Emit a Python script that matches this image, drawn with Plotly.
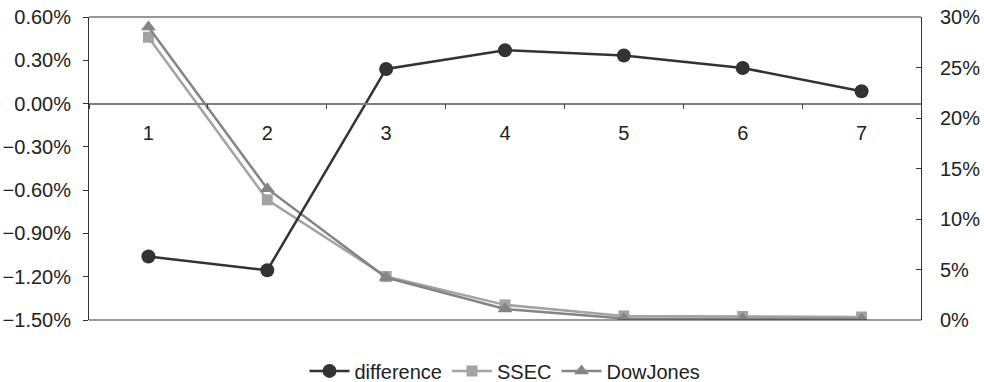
import plotly.graph_objects as go

categories = ["1", "2", "3", "4", "5", "6", "7"]
difference = [-0.0106, -0.01155, 0.0024, 0.0037, 0.00333, 0.00247, 0.00085]
ssec = [0.280, 0.119, 0.043, 0.015, 0.004, 0.0035, 0.003]
dowjones = [0.290, 0.130, 0.042, 0.011, 0.0015, 0.0012, 0.001]

left_ticks = [-0.015, -0.012, -0.009, -0.006, -0.003, 0.0, 0.003, 0.006]
right_ticks = [0, 0.05, 0.10, 0.15, 0.20, 0.25, 0.30]

FONT = "Liberation Sans, Arial, sans-serif"
FS = 20
fig = go.Figure()

fig.add_trace(go.Scatter(
    x=categories, y=difference, name="difference", yaxis="y2",
    mode="lines+markers",
    line=dict(color="#333333", width=2.5),
    marker=dict(symbol="circle", size=14, color="#333333"),
))
fig.add_trace(go.Scatter(
    x=categories, y=ssec, name="SSEC", yaxis="y",
    mode="lines+markers",
    line=dict(color="#a3a3a3", width=2.5),
    marker=dict(symbol="square", size=11, color="#a3a3a3"),
))
fig.add_trace(go.Scatter(
    x=categories, y=dowjones, name="DowJones", yaxis="y",
    mode="lines+markers",
    line=dict(color="#848484", width=2.5),
    marker=dict(symbol="triangle-up", size=13, color="#848484"),
))

fig.update_layout(
    width=984, height=382,
    margin=dict(l=89, r=63, t=17, b=62, autoexpand=False),
    paper_bgcolor="white", plot_bgcolor="white",
    font=dict(family=FONT, size=FS, color="#222222"),
    showlegend=True,
    legend=dict(orientation="h", x=0.5, xanchor="center", y=-0.168, yanchor="middle",
                font=dict(size=FS, color="#222222"), itemwidth=40, tracegroupgap=0),
    xaxis=dict(
        type="category", categoryarray=categories, range=[-0.5, 6.5],
        anchor="free", position=1 - 0.6 / 2.1, automargin=False,
        showline=True, linecolor="#808080", linewidth=1.5,
        ticks="outside", ticklen=5, tickcolor="#444444", tickson="boundaries",
        ticklabelstandoff=12,
        showgrid=False, zeroline=False,
        tickfont=dict(size=FS, color="#222222"),
    ),
    yaxis=dict(
        side="right", range=[0, 0.30], tickvals=right_ticks, tickformat=".0%",
        automargin=False,
        showline=True, linecolor="#333333", linewidth=1,
        ticks="inside", ticklen=5, tickcolor="#333333",
        ticklabelstandoff=14,
        showgrid=False, zeroline=False,
        tickfont=dict(size=FS, color="#222222"),
    ),
    yaxis2=dict(
        side="left", overlaying="y", range=[-0.015, 0.006], tickvals=left_ticks,
        tickformat=".2%", automargin=False,
        showline=True, linecolor="#333333", linewidth=1,
        ticks="outside", ticklen=5, tickcolor="#333333",
        ticklabelstandoff=8,
        showgrid=False, zeroline=False,
        tickfont=dict(size=FS, color="#222222"),
    ),
    shapes=[
        dict(type="line", xref="paper", yref="paper", x0=0, x1=1, y0=1, y1=1,
             line=dict(color="#333333", width=1)),
        dict(type="line", xref="paper", yref="paper", x0=0, x1=1, y0=0, y1=0,
             line=dict(color="#333333", width=1)),
    ],
)

fig.write_html("out.html",
               config={"displayModeBar": False},
               post_script="document.body.style.margin='0';document.body.style.overflow='hidden';")
